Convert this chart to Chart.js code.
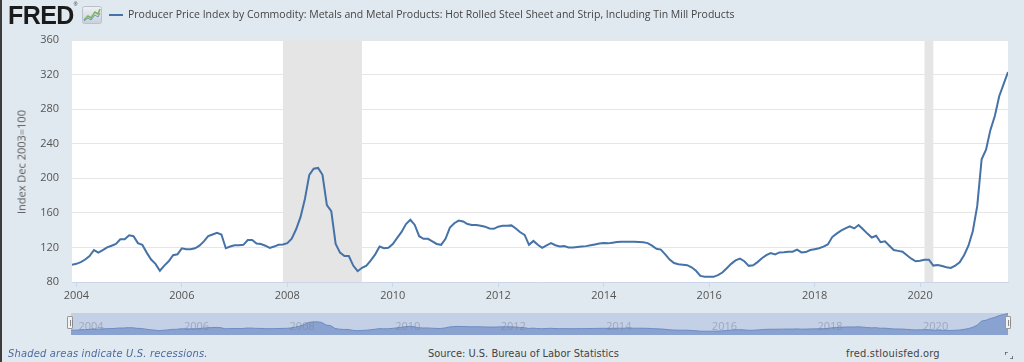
<!DOCTYPE html>
<html><head><meta charset="utf-8">
<script src="https://cdn.jsdelivr.net/npm/chart.js@4.4.1/dist/chart.umd.min.js"></script>
<style>
html,body{margin:0;padding:0;}
body{width:1024px;height:362px;background:#e1e9f0;position:relative;overflow:hidden;font-family:"Open Sans",sans-serif;}
#edge{position:absolute;left:0;top:0;width:2px;height:362px;background:#3c3c3c;}
#main{position:absolute;left:0;top:0;}
#nav{position:absolute;left:71px;top:313px;}
#logo{position:absolute;left:8px;top:1px;font-family:"Liberation Sans",Arial,sans-serif;font-weight:bold;font-size:25px;color:#1b1b1b;letter-spacing:-0.6px;}
#logo sup{font-size:5px;font-weight:normal;vertical-align:top;}
#icon{position:absolute;left:82px;top:6px;}
#legline{position:absolute;left:109px;top:14px;width:14px;height:2px;background:#4572a7;}
#title{position:absolute;left:128px;top:7px;font-size:10.5px;color:#444;white-space:nowrap;}
#ytitle{position:absolute;left:21px;top:162px;font-size:11px;color:#555;white-space:nowrap;transform:translate(-50%,-50%) rotate(-90deg);}
.foot{position:absolute;top:347px;font-family:"Liberation Sans Narrow","DejaVu Sans Condensed",sans-serif;font-size:11px;color:#444;white-space:nowrap;}
#f1{left:8px;font-style:italic;color:#4a6aa0;letter-spacing:0.2px;}
#f2{left:428px;}
#f3{left:846px;letter-spacing:0.2px;}
.handle{position:absolute;top:316px;width:6px;height:13px;background:#f2f2f2;border:1px solid #999;border-radius:1px;box-sizing:border-box;}
.handle:after{content:"";position:absolute;left:1.5px;top:3px;width:1px;height:6px;border-left:1px solid #888;border-right:1px solid #888;}
#fs{position:absolute;left:1005px;top:352px;width:8px;height:7px;}
</style></head>
<body>
<div id="edge"></div>
<canvas id="main" width="1024" height="305"></canvas>
<canvas id="nav" width="937" height="22"></canvas>
<div class="handle" style="left:67px"></div>
<div class="handle" style="left:1005px"></div>
<div id="logo">FRED<sup>®</sup></div>
<svg id="icon" width="20" height="18" viewBox="0 0 20 18">
<defs><linearGradient id="g" x1="0" y1="0" x2="0" y2="1"><stop offset="0" stop-color="#eef1f4"/><stop offset="1" stop-color="#c9d0d8"/></linearGradient></defs>
<rect x="0.5" y="0.5" width="19" height="17" rx="2" fill="url(#g)" stroke="#b9c1ca"/>
<polyline points="2,14 6,10 9,12 13,6 16,8 18,3" fill="none" stroke="#7ab55c" stroke-width="1.6"/>
<polyline points="2,15 6,12 9,14 13,9 16,11 18,7" fill="none" stroke="#6f93c4" stroke-width="1"/>
</svg>
<div id="legline"></div>
<div id="title">Producer Price Index by Commodity: Metals and Metal Products: Hot Rolled Steel Sheet and Strip, Including Tin Mill Products</div>
<div id="ytitle">Index Dec 2003=100</div>
<div class="foot" id="f1">Shaded areas indicate U.S. recessions.</div>
<div class="foot" id="f2">Source: U.S. Bureau of Labor Statistics</div>
<div class="foot" id="f3">fred.stlouisfed.org</div>
<svg id="fs" viewBox="0 0 8 7"><path d="M0,3 V0 H3 M5,7 H8 V4" fill="none" stroke="#333" stroke-width="1.2"/></svg>
<script>
// ---- data (monthly, first value = Dec 2003) ----
const firstYear = 2003;
const firstMonth = 12;
const values2003 = [100];
const values2004 = [101, 103, 106, 110, 117, 114, 117, 120, 122, 124, 129.5, 129.5];
const values2005 = [134, 133, 125, 123, 114, 106, 101, 93, 99, 104, 111, 112];
const values2006 = [119, 118, 118, 119, 122, 127, 133, 135, 137, 135, 119, 121];
const values2007 = [122.5, 122.5, 123, 128.5, 128.5, 124.5, 124, 122, 119.5, 121, 123, 123.5];
const values2008 = [125, 130, 141, 155, 176, 204, 211, 212, 204, 169, 162, 124];
const values2009 = [114, 110, 110, 99, 92.5, 96.5, 99, 105, 112, 121, 119, 119.5];
const values2010 = [124, 131, 138, 147, 152, 146, 133, 130, 130, 127, 124, 123];
const values2011 = [130, 143, 148, 151, 150, 147, 146, 146, 145, 144, 142, 141.5];
const values2012 = [144, 145, 145, 145.5, 142, 137.5, 134.5, 123, 127.5, 123, 119.5, 122.5];
const values2013 = [125, 122.5, 121, 121.5, 120, 120, 120.5, 121, 121.5, 122.5, 123.5, 124.5];
const values2014 = [125, 124.7, 125.5, 126.3, 126.6, 126.6, 126.6, 126.6, 126.3, 126, 125, 122];
const values2015 = [118.5, 117.5, 112, 106, 102, 100.6, 100, 99.5, 97, 93, 87, 86];
const values2016 = [86, 86, 88, 91, 96, 101, 105, 107, 104, 98.7, 99.4, 103];
const values2017 = [107.5, 111, 113.5, 112, 114.2, 114.5, 115, 115, 117.5, 114.2, 114.6, 117];
const values2018 = [118, 119, 121, 123.5, 132, 136, 139.5, 142, 144.5, 142, 146, 141];
const values2019 = [136, 131.5, 133.5, 126, 127, 122, 117, 116, 115, 111, 107, 104];
const values2020 = [104.5, 105.8, 105.8, 99, 99.6, 98.5, 97, 96.2, 99, 102.7, 111, 122];
const values2021 = [139, 168, 222, 233, 256, 272, 295, 309, 323];

const recessionStarts = ['2007-12', '2020-02'];
const recessionEnds = ['2009-06', '2020-04'];
const yTickValues = [80, 120, 160, 200, 240, 280, 320, 360];
const xTickYears = [2004, 2006, 2008, 2010, 2012, 2014, 2016, 2018, 2020];

// ---- build ----
const allValues = [].concat(values2003, values2004, values2005, values2006, values2007, values2008,
  values2009, values2010, values2011, values2012, values2013, values2014, values2015, values2016,
  values2017, values2018, values2019, values2020, values2021);
function ym(s){ const p = s.split('-'); return +p[0] + (+p[1] - 1) / 12; }
const startX = firstYear + (firstMonth - 1) / 12;
const points = allValues.map((v, i) => ({ x: startX + i / 12, y: v }));
const endX = points[points.length - 1].x;

const FONT = { family: "'Open Sans', sans-serif", size: 11 };

const bgPlugin = {
  id: 'bg',
  beforeDraw(chart) {
    const { ctx, chartArea: a, scales: { x } } = chart;
    ctx.save();
    ctx.fillStyle = '#ffffff';
    ctx.fillRect(a.left, a.top, a.right - a.left, a.bottom - a.top);
    ctx.fillStyle = '#e5e5e5';
    recessionStarts.forEach((s, i) => {
      const x0 = Math.max(a.left, x.getPixelForValue(ym(s)));
      const x1 = Math.min(a.right, x.getPixelForValue(ym(recessionEnds[i])));
      ctx.fillRect(x0, a.top, x1 - x0, a.bottom - a.top);
    });
    ctx.restore();
  }
};

new Chart(document.getElementById('main'), {
  type: 'line',
  data: { datasets: [{ data: points, borderColor: '#4572a7', borderWidth: 2, pointRadius: 0, tension: 0, fill: false }] },
  options: {
    responsive: false, animation: false, events: [],
    layout: { padding: { top: 40, right: 16, left: 0, bottom: 0 } },
    plugins: { legend: { display: false }, tooltip: { enabled: false } },
    scales: {
      x: {
        type: 'linear', min: startX, max: endX,
        afterBuildTicks: s => { s.ticks = xTickYears.map(v => ({ value: v })); },
        afterFit: s => { s.height = 23; },
        ticks: { callback: v => String(v), color: '#555', font: FONT, padding: 2, maxRotation: 0, autoSkip: false },
        grid: { drawOnChartArea: false, drawTicks: true, tickLength: 5, color: '#ccd6eb' },
        border: { color: '#ccd6eb' }
      },
      y: {
        min: 80, max: 360,
        afterBuildTicks: s => { s.ticks = yTickValues.map(v => ({ value: v })); },
        afterFit: s => { s.width = 72; },
        ticks: { color: '#555', font: FONT, padding: 13 },
        grid: { color: '#e6e6e6', drawTicks: false },
        border: { display: false }
      }
    }
  },
  plugins: [bgPlugin]
});

const navPlugin = {
  id: 'navbg',
  beforeDraw(chart) {
    const { ctx, width, height } = chart;
    ctx.save();
    ctx.fillStyle = '#c3d0e6';
    ctx.fillRect(0, 0, width, height);
    ctx.restore();
  },
  afterDatasetsDraw(chart) {
    const { ctx, scales: { x } } = chart;
    ctx.save();
    ctx.fillStyle = 'rgba(120,130,150,0.5)';
    ctx.font = "11px 'Open Sans', sans-serif";
    ctx.textBaseline = 'middle';
    xTickYears.forEach(v => ctx.fillText(String(v), x.getPixelForValue(v) + 3, 14));
    ctx.restore();
  }
};

new Chart(document.getElementById('nav'), {
  type: 'line',
  data: { datasets: [{ data: points, borderColor: '#6d8cc4', borderWidth: 1, pointRadius: 0, tension: 0, fill: 'start', backgroundColor: '#8aa2cf' }] },
  options: {
    responsive: false, animation: false, events: [],
    layout: { padding: 0 },
    plugins: { legend: { display: false }, tooltip: { enabled: false } },
    scales: {
      x: { type: 'linear', min: startX, max: endX, display: false },
      y: { min: 36, max: 330, display: false }
    }
  },
  plugins: [navPlugin]
});
</script>
</body></html>
